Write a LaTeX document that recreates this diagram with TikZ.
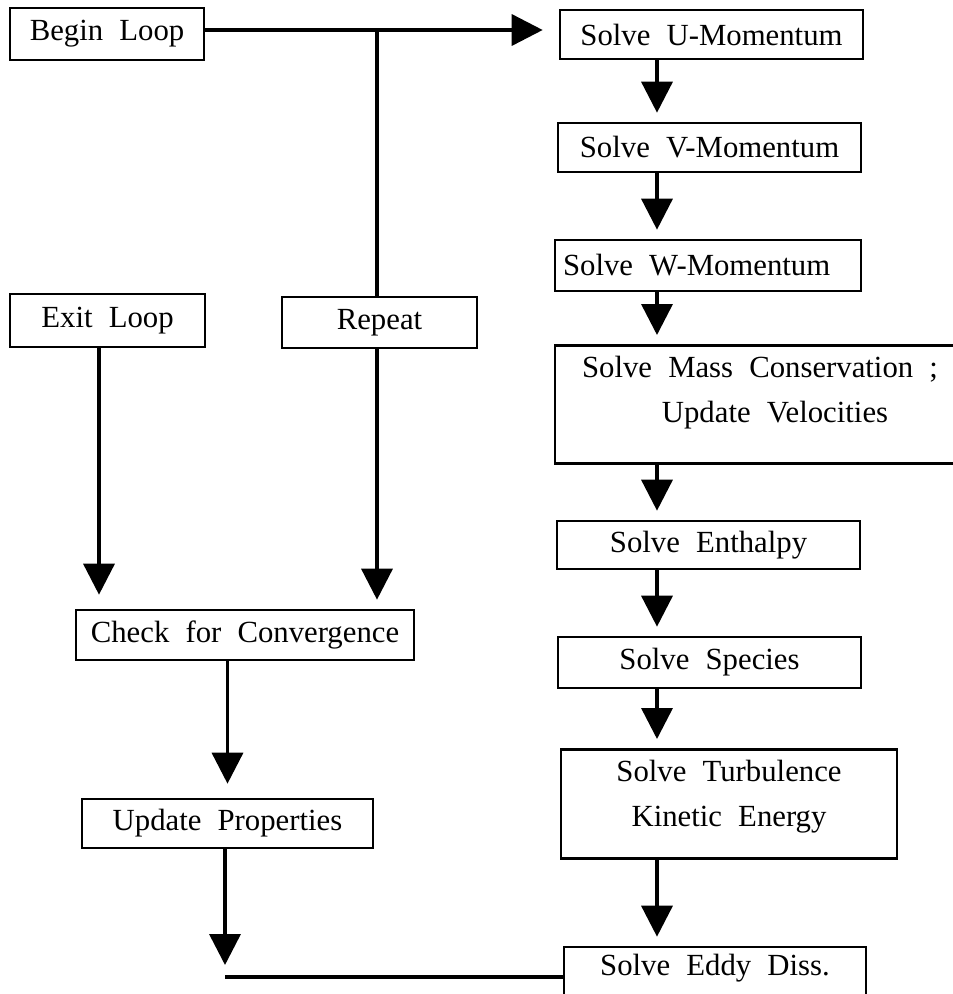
\documentclass[tikz,border=0pt]{standalone}
\usepackage{fontspec}
\setmainfont{Liberation Serif}[WordSpace=2.1]
\usetikzlibrary{arrows.meta}

\tikzset{
  box/.style={draw, line width=1.5pt, inner sep=0pt, font=\fontsize{17.5}{26}\selectfont},
  flow/.style={line width=2pt, -{Triangle[width=0.62cm,length=0.62cm]}, shorten >=0.18cm},
  link/.style={line width=2pt}
}

\begin{document}
\begin{tikzpicture}[x=0.02cm,y=-0.02cm]
  \useasboundingbox (0,0) rectangle (953,994);
  \clip (0,0) rectangle (953,994);
  % loop control, left side
  \node[box, minimum width=3.88cm, minimum height=1.04cm] (begin) at (107,34) {Begin Loop};
  \node[box, minimum width=3.9cm, minimum height=1.06cm] (exitl) at (107.5,320.5) {Exit Loop};
  \node[box, minimum width=3.9cm, minimum height=1.02cm] (rep) at (379.5,322.5) {Repeat};
  \node[box, minimum width=6.76cm, minimum height=1cm] (check) at (245,635) {Check for Convergence};
  \node[box, minimum width=5.82cm, minimum height=0.98cm] (update) at (227.5,823.5) {Update Properties};
  % solver column
  \node[box, minimum width=6.06cm, minimum height=0.98cm] (umom) at (711.5,34.5) {Solve U-Momentum};
  \node[box, minimum width=6.06cm, minimum height=0.98cm] (vmom) at (709.5,147.5) {Solve V-Momentum};
  \node[box, minimum height=1.02cm, inner xsep=0.16cm] (wmom) at (708,265.5) {\makebox[5.8cm][l]{Solve W-Momentum}};
  \node[box, minimum width=8.2cm, minimum height=2.1cm] (mass) at (760,404.5)
    {\begin{tabular}{@{}c@{}}Solve Mass Conservation ;\\ \hspace*{0.6cm}Update Velocities\\[0.54cm]\end{tabular}};
  \node[box, minimum width=6.06cm, minimum height=0.96cm] (enth) at (708.5,545) {Solve Enthalpy};
  \node[box, minimum width=6.06cm, minimum height=1.02cm] (spec) at (709.5,662.5) {Solve Species};
  \node[box, minimum width=6.72cm, minimum height=2.08cm] (turb) at (729,804)
    {\begin{tabular}{@{}c@{}}Solve Turbulence\\ Kinetic Energy\\[0.36cm]\end{tabular}};
  \node[box, minimum width=6.04cm, minimum height=1.08cm, text depth=10.5pt] (eddy) at (715,974) {Solve Eddy Diss.};

  \coordinate (top) at (377,30);
  \coordinate (exitx) at (99,0);
  \coordinate (spine) at (657,0);
  \coordinate (back) at (225,977);

  % connectors
  \draw[link] (begin.east |- top) -- (top);
  \draw[flow, shorten >=0.32cm] (top) -- (umom.west |- top);
  \draw[link] (top) -- (rep.north -| top);
  \draw[flow, shorten >=0.28cm] (exitl.south -| exitx) -- (check.north -| exitx);
  \draw[flow] (rep.south -| top) -- (check.north -| top);
  \draw[flow, shorten >=0.28cm] (check.south -| update) -- (update.north);
  \draw[flow, shorten >=0.24cm] (update.south -| back) -- (back);
  \draw[link] (back) -- (eddy.west |- back);

  \draw[flow] (umom.south -| spine) -- (vmom.north -| spine);
  \draw[flow] (vmom.south -| spine) -- (wmom.north -| spine);
  \draw[flow] (wmom.south -| spine) -- (mass.north -| spine);
  \draw[flow] (mass.south -| spine) -- (enth.north -| spine);
  \draw[flow] (enth.south -| spine) -- (spec.north -| spine);
  \draw[flow] (spec.south -| spine) -- (turb.north -| spine);
  \draw[flow] (turb.south -| spine) -- (eddy.north -| spine);
\end{tikzpicture}
\end{document}
